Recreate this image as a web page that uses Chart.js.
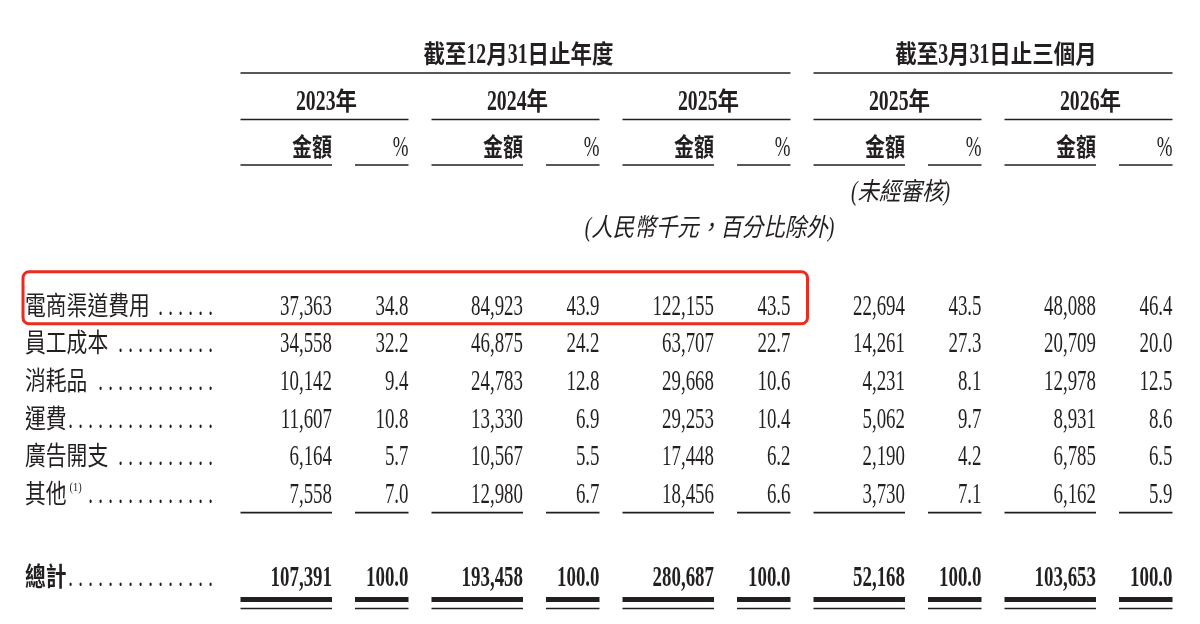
<!DOCTYPE html>
<html lang="zh-Hant">
<head>
<meta charset="utf-8">
<title>營銷及推廣開支</title>
<script src="https://cdn.jsdelivr.net/npm/chart.js@4.4.1/dist/chart.umd.min.js"></script>
<style>
  html,body{margin:0;padding:0;background:#fff;}
  #wrap{width:1200px;height:624px;position:relative;}
</style>
</head>
<body>
<div id="wrap"><canvas id="chart"></canvas></div>
<script>
/* 數據 */
const categories = ["電商渠道費用", "員工成本", "消耗品", "運費", "廣告開支", "其他"];
const footnoteRow = 5, footnoteMark = "(1)";
const totalLabel = "總計";
const periods = ["2023年", "2024年", "2025年", "2025年", "2026年"];
const periodGroups = ["截至12月31日止年度", "截至3月31日止三個月"];
const groupSpans = [[0, 2], [3, 4]];
const amountHead = "金額", pctHead = "%";
const unauditedNote = "(未經審核)", unitNote = "(人民幣千元，百分比除外)";

const amount2023 = [37363, 34558, 10142, 11607, 6164, 7558];
const pct2023    = [34.8, 32.2, 9.4, 10.8, 5.7, 7.0];
const amount2024 = [84923, 46875, 24783, 13330, 10567, 12980];
const pct2024    = [43.9, 24.2, 12.8, 6.9, 5.5, 6.7];
const amount2025 = [122155, 63707, 29668, 29253, 17448, 18456];
const pct2025    = [43.5, 22.7, 10.6, 10.4, 6.2, 6.6];
const amountQ2025 = [22694, 14261, 4231, 5062, 2190, 3730];
const pctQ2025    = [43.5, 27.3, 8.1, 9.7, 4.2, 7.1];
const amountQ2026 = [48088, 20709, 12978, 8931, 6785, 6162];
const pctQ2026    = [46.4, 20.0, 12.5, 8.6, 6.5, 5.9];
const totalAmounts = [107391, 193458, 280687, 52168, 103653];
const totalPcts    = [100.0, 100.0, 100.0, 100.0, 100.0];

const amountCols = [amount2023, amount2024, amount2025, amountQ2025, amountQ2026];
const pctCols    = [pct2023, pct2024, pct2025, pctQ2025, pctQ2026];

/* 版面 */
const INK = "#231f20", RED = "#ec2b1e";
const TOTAL_ROW = 7.23;
const GROUP_HALF = 84, AMT_RIGHT = 7.5, PCT_LEFT = 30.5;
const LABEL_X = 25, DOTS_END = 213, DOT_PITCH = 10;
const HEAD = {title: 63, titleLine: 73, year: 110, yearLine: 119.5, sub: 155.5, subLine: 165, note1: 200, note2: 236};

const ST = {
  body:  {lat: ["normal", 30, "Liberation Serif", 0.63], cjk: ["normal", 26, "Noto Sans CJK TC", 0.8]},
  bold:  {lat: ["bold", 30, "Liberation Serif", 0.65], cjk: ["bold", 25, "Noto Sans CJK TC", 0.8]},
  title: {lat: ["bold", 30, "Liberation Serif", 0.66], cjk: ["bold", 25, "Noto Sans CJK TC", 0.86]},
  note:  {lat: ["italic", 28, "Liberation Serif", 0.7], cjk: ["italic", 25, "Noto Sans CJK TC", 0.86]},
  sup:   {lat: ["normal", 13, "Liberation Serif", 0.8], cjk: ["normal", 13, "Noto Sans CJK TC", 0.8]},
  total: {lat: ["bold", 30, "Liberation Serif", 0.63], cjk: ["bold", 26, "Noto Sans CJK TC", 0.8]}
};

const fmtAmt = v => v.toLocaleString("en-US");
const fmtPct = v => v.toFixed(1);

function splitRuns(text){
  return text.match(/[\u2E80-\u9FFF\uF900-\uFFEF]+|[^\u2E80-\u9FFF\uF900-\uFFEF]+/g) || [];
}
function isCJK(s){ return /[\u2E80-\u9FFF\uF900-\uFFEF]/.test(s); }
function setFont(ctx, f){ ctx.font = `${f[0]} ${f[1]}px "${f[2]}"`; }

function measure(ctx, text, st){
  let w = 0;
  splitRuns(text).forEach(r=>{
    const f = isCJK(r) ? st.cjk : st.lat;
    setFont(ctx, f);
    w += ctx.measureText(r).width * f[3];
  });
  return w;
}
function drawText(ctx, text, x, y, st, align){
  const w = measure(ctx, text, st);
  let x0 = align==="right" ? x-w : align==="center" ? x-w/2 : x;
  splitRuns(text).forEach(r=>{
    const f = isCJK(r) ? st.cjk : st.lat;
    setFont(ctx, f);
    const rw = ctx.measureText(r).width;
    ctx.save();
    ctx.translate(x0, y);
    ctx.scale(f[3], 1);
    ctx.fillText(r, 0, 0);
    ctx.restore();
    x0 += rw * f[3];
  });
  return x0;
}
function hline(ctx, x1, x2, y, lw){
  ctx.beginPath();
  ctx.lineWidth = lw;
  ctx.moveTo(x1, y);
  ctx.lineTo(x2, y);
  ctx.stroke();
}
function dots(ctx, fromX, y, st){
  let n = Math.floor((DOTS_END - (fromX + 6)) / DOT_PITCH) + 1;
  for(let k=0;k<n;k++) drawText(ctx, ".", DOTS_END - k*DOT_PITCH, y, st, "right");
}

/* 表格插件 */
const tablePlugin = {
  id: "table",
  afterDraw(chart){
    const {ctx, scales:{x, y}} = chart;
    ctx.save();
    ctx.fillStyle = INK;
    ctx.strokeStyle = INK;
    ctx.textBaseline = "alphabetic";
    ctx.textAlign = "left";
    const cx = i => x.getPixelForValue(i);
    const base = r => y.getPixelForValue(r) + 10;

    // 表頭
    groupSpans.forEach(([a,b], g)=>{
      const l = cx(a)-GROUP_HALF, r = cx(b)+GROUP_HALF;
      drawText(ctx, periodGroups[g], (l+r)/2 + 3, HEAD.title, ST.title, "center");
      hline(ctx, l, r, HEAD.titleLine, 1.6);
    });
    periods.forEach((p, i)=>{
      const c = cx(i);
      drawText(ctx, p, c + 2, HEAD.year, ST.title, "center");
      hline(ctx, c-GROUP_HALF, c+GROUP_HALF, HEAD.yearLine, 1.6);
      drawText(ctx, amountHead, c+AMT_RIGHT, HEAD.sub, ST.bold, "right");
      drawText(ctx, pctHead, c+GROUP_HALF, HEAD.sub, ST.body, "right");
      hline(ctx, c-GROUP_HALF, c+AMT_RIGHT, HEAD.subLine, 1.6);
      hline(ctx, c+PCT_LEFT, c+GROUP_HALF, HEAD.subLine, 1.6);
    });
    drawText(ctx, unauditedNote, cx(3) + 3, HEAD.note1, ST.note, "center");
    drawText(ctx, unitNote, cx(2) + 3, HEAD.note2, ST.note, "center");

    // 明細
    categories.forEach((name, r)=>{
      const yb = base(r);
      let end = drawText(ctx, name, LABEL_X, yb, ST.body, "left");
      if(r === footnoteRow) end = drawText(ctx, footnoteMark, end + 3, yb - 12, ST.sup, "left");
      dots(ctx, end, yb, ST.body);
      periods.forEach((p, i)=>{
        drawText(ctx, fmtAmt(amountCols[i][r]), cx(i)+AMT_RIGHT, yb, ST.body, "right");
        drawText(ctx, fmtPct(pctCols[i][r]), cx(i)+GROUP_HALF, yb, ST.body, "right");
      });
    });
    const last = y.getPixelForValue(categories.length-1) + 20;
    periods.forEach((p, i)=>{
      hline(ctx, cx(i)-GROUP_HALF, cx(i)+AMT_RIGHT, last, 1.6);
      hline(ctx, cx(i)+PCT_LEFT, cx(i)+GROUP_HALF, last, 1.6);
    });

    // 總計
    const tb = base(TOTAL_ROW);
    const tEnd = drawText(ctx, totalLabel, LABEL_X, tb, ST.total, "left");
    dots(ctx, tEnd, tb, ST.body);
    const ty = y.getPixelForValue(TOTAL_ROW);
    periods.forEach((p, i)=>{
      drawText(ctx, fmtAmt(totalAmounts[i]), cx(i)+AMT_RIGHT, tb, ST.total, "right");
      drawText(ctx, fmtPct(totalPcts[i]), cx(i)+GROUP_HALF, tb, ST.total, "right");
      [[cx(i)-GROUP_HALF, cx(i)+AMT_RIGHT], [cx(i)+PCT_LEFT, cx(i)+GROUP_HALF]].forEach(([a,b])=>{
        hline(ctx, a, b, ty+23, 5);
        hline(ctx, a, b, ty+32, 1.6);
      });
    });

    // 紅框標示
    const y0 = y.getPixelForValue(0);
    ctx.strokeStyle = RED;
    ctx.lineWidth = 3;
    ctx.beginPath();
    ctx.roundRect(23, y0-33, cx(2)+GROUP_HALF+17-23, 52, 6);
    ctx.stroke();
    ctx.restore();
  }
};

new Chart(document.getElementById("chart"), {
  type: "bar",
  data: { labels: periods, datasets: [] },
  options: {
    responsive: true,
    maintainAspectRatio: false,
    animation: false,
    events: [],
    layout: { padding: {top: 286, bottom: 28, left: 229, right: 16} },
    plugins: { legend: {display:false}, tooltip: {enabled:false} },
    scales: {
      x: { type: "category", offset: true, display: false },
      y: { type: "linear", reverse: true, min: -0.5, max: 7.75, display: false }
    }
  },
  plugins: [tablePlugin]
});
</script>
</body>
</html>
